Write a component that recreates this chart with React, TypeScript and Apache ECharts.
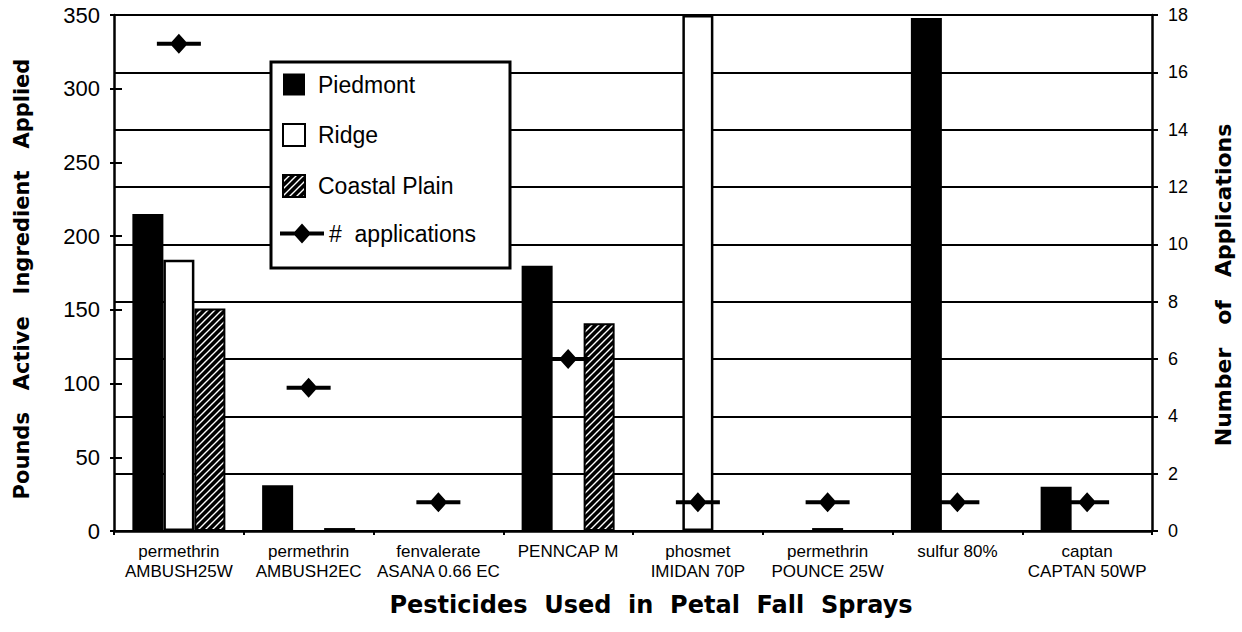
import React, { useEffect, useRef } from 'react';
import * as echarts from 'echarts';

const categories = [
  'permethrin\nAMBUSH25W',
  'permethrin\nAMBUSH2EC',
  'fenvalerate\nASANA 0.66 EC',
  'PENNCAP M',
  'phosmet\nIMIDAN 70P',
  'permethrin\nPOUNCE 25W',
  'sulfur 80%',
  'captan\nCAPTAN 50WP',
];
const piedmont = [215, 31, 0, 180, 0, 0, 348, 30];
const ridge = [184, 0, 0, 0, 350, 2, 0, 0];
const coastalPlain = [151, 2, 0, 141, 0, 0, 0, 0];
const applications = [17, 5, 1, 6, 1, 1, 1, 1];

const NB = '\u00a0';
const leftTitle = ['Pounds', 'Active', 'Ingredient', 'Applied'].join(NB.repeat(3));
const rightTitle = ['Number', 'of', 'Applications'].join(NB.repeat(3));
const xTitle = ['Pesticides', 'Used', 'in', 'Petal', 'Fall', 'Sprays'].join(NB.repeat(2));

const appSymbol = 'path://M0,8L44,8L44,12L0,12ZM22,0L31,10L22,20L13,10Z';
const squareIcon = 'path://M0,0L22,0L22,22L0,22ZM30,11L30,11';

const nz = (arr: number[]) => arr.map((v) => (v === 0 ? null : v));

function makeHatch(): HTMLCanvasElement {
  const c = document.createElement('canvas');
  c.width = 7;
  c.height = 7;
  const g = c.getContext('2d')!;
  g.fillStyle = '#000';
  g.fillRect(0, 0, 7, 7);
  g.strokeStyle = '#fff';
  g.lineWidth = 1.4;
  g.beginPath();
  g.moveTo(-1, 8);
  g.lineTo(8, -1);
  g.moveTo(-1, 1);
  g.lineTo(1, -1);
  g.moveTo(6, 8);
  g.lineTo(8, 6);
  g.stroke();
  return c;
}

export default function App() {
  const ref = useRef<HTMLDivElement>(null);
  useEffect(() => {
    if (!ref.current) return;
    const chart = echarts.init(ref.current, undefined, { renderer: 'svg' });
    const hatch = { image: makeHatch(), repeat: 'repeat', imageWidth: 7, imageHeight: 7 } as any;
    const black = '#000';
    chart.setOption({
      animation: false,
      backgroundColor: '#fff',
      textStyle: { fontFamily: 'Liberation Sans, Arial, sans-serif', color: black },
      grid: { left: 114, right: 84, top: 15, bottom: 101, containLabel: false },
      legend: [
        {
          orient: 'vertical',
          left: 282,
          top: 73,
          padding: 0,
          itemGap: 27,
          itemWidth: 30,
          itemHeight: 22,
          selectedMode: false,
          textStyle: { fontFamily: 'Liberation Sans', fontSize: 23, color: black },
          data: [
            { name: 'Piedmont', icon: squareIcon },
            { name: 'Ridge', icon: squareIcon },
            { name: 'Coastal Plain', icon: squareIcon },
          ],
          z: 5,
        },
        {
          orient: 'vertical',
          left: 280,
          top: 222,
          padding: 0,
          itemWidth: 44,
          itemHeight: 20,
          selectedMode: false,
          textStyle: { fontFamily: 'Liberation Sans', fontSize: 23, color: black },
          data: [{ name: '# applications', icon: appSymbol }],
          formatter: (n: string) => n.replace(' ', NB + NB),
          z: 5,
        },
      ],
      graphic: [
        {
          type: 'rect',
          z: 3,
          shape: { x: 271, y: 62, width: 239, height: 206 },
          style: { fill: '#fff', stroke: black, lineWidth: 3 },
        },
      ],
      xAxis: {
        type: 'category',
        data: categories,
        axisLine: { lineStyle: { color: black, width: 2.5 } },
        axisTick: { show: true, length: 4, lineStyle: { color: black, width: 2 } },
        axisLabel: {
          interval: 0,
          color: black,
          fontSize: 17,
          lineHeight: 20,
          margin: 10,
          fontFamily: 'Liberation Sans',
        },
        name: xTitle,
        nameLocation: 'middle',
        nameGap: 62,
        nameTextStyle: {
          fontFamily: 'DejaVu Sans',
          fontWeight: 'bold',
          fontSize: 24,
          color: black,
          padding: [0, 0, 0, 36],
        },
      },
      yAxis: [
        {
          type: 'value',
          position: 'left',
          min: 0,
          max: 350,
          interval: 50,
          axisLine: { show: true, lineStyle: { color: black, width: 2.5 } },
          axisTick: { show: true, length: 4, lineStyle: { color: black, width: 2 } },
          axisLabel: { color: black, fontSize: 22, margin: 14, fontFamily: 'Liberation Sans' },
          splitLine: { show: false },
          name: leftTitle,
          nameLocation: 'middle',
          nameRotate: 90,
          nameGap: 82,
          nameTextStyle: {
            fontFamily: 'DejaVu Sans',
            fontWeight: 'bold',
            fontSize: 21,
            color: black,
            padding: [0, 12, 0, 0],
          },
        },
        {
          type: 'value',
          position: 'right',
          min: 0,
          max: 18,
          interval: 2,
          axisLine: { show: true, lineStyle: { color: black, width: 2.5 } },
          axisTick: { show: true, length: 6, lineStyle: { color: black, width: 2 } },
          axisLabel: { color: black, fontSize: 18, margin: 16, fontFamily: 'Liberation Sans' },
          splitLine: { show: true, lineStyle: { color: black, width: 2 } },
          name: rightTitle,
          nameLocation: 'middle',
          nameRotate: 90,
          nameGap: 60,
          nameTextStyle: {
            fontFamily: 'DejaVu Sans',
            fontWeight: 'bold',
            fontSize: 22,
            color: black,
            padding: [0, 24, 0, 0],
          },
        },
        {
          type: 'value',
          position: 'left',
          min: 0,
          max: 350,
          interval: 50,
          axisLine: { show: false },
          axisTick: { show: true, inside: true, length: 8, lineStyle: { color: black, width: 2 } },
          axisLabel: { show: false },
          splitLine: { show: false },
        },
        {
          type: 'value',
          position: 'right',
          min: 0,
          max: 18,
          interval: 2,
          axisLine: { show: false },
          axisTick: { show: true, inside: true, length: 5, lineStyle: { color: black, width: 2 } },
          axisLabel: { show: false },
          splitLine: { show: false },
        },
      ],
      series: [
        {
          name: 'Piedmont',
          type: 'bar',
          data: nz(piedmont),
          barWidth: 31,
          barGap: '0%',
          itemStyle: { color: black },
        },
        {
          name: 'Ridge',
          type: 'bar',
          data: nz(ridge),
          barWidth: 31,
          barGap: '0%',
          itemStyle: { color: '#fff', borderColor: black, borderWidth: 2.5 },
        },
        {
          name: 'Coastal Plain',
          type: 'bar',
          data: nz(coastalPlain),
          barWidth: 31,
          barGap: '0%',
          itemStyle: { color: hatch, borderColor: black, borderWidth: 2 },
        },
        {
          name: '# applications',
          type: 'scatter',
          yAxisIndex: 1,
          data: applications,
          symbol: appSymbol,
          symbolSize: [44, 20],
          itemStyle: { color: black, opacity: 1 },
          z: 3,
        },
      ],
    });
    return () => chart.dispose();
  }, []);
  return (
    <div
      ref={ref}
      style={{ position: 'fixed', left: 0, top: 0, width: 1242, height: 632, background: '#fff' }}
    />
  );
}
